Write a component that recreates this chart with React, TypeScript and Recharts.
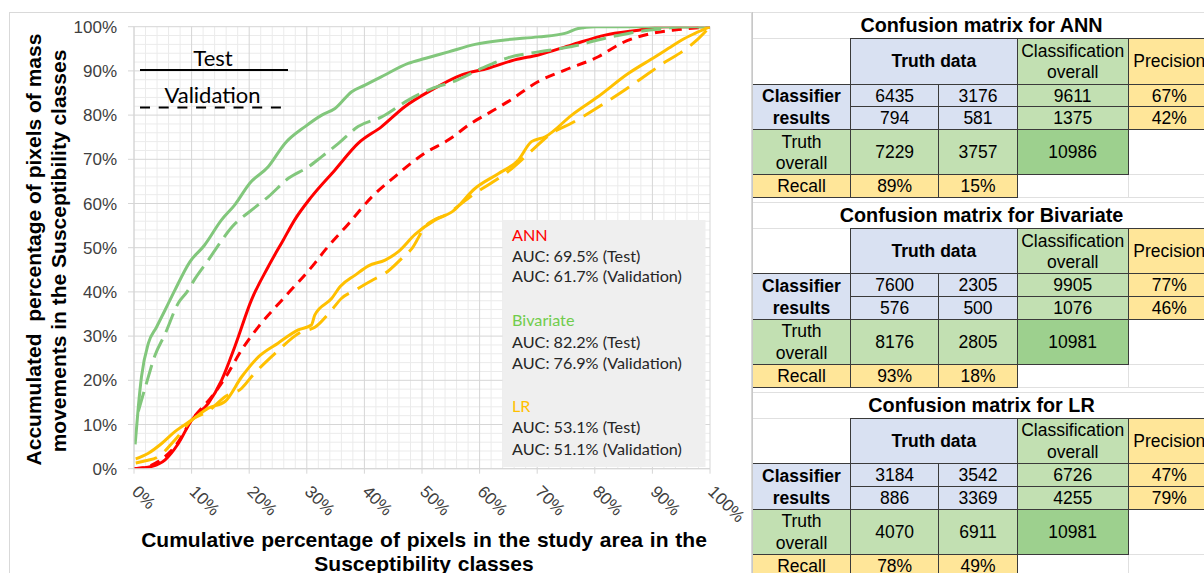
import React from "react";
import { LineChart, Line, XAxis, YAxis, CartesianGrid } from "recharts";

// ---------- chart data ----------
const xTicks = [0, 10, 20, 30, 40, 50, 60, 70, 80, 90, 100];
const yTicks = [0, 10, 20, 30, 40, 50, 60, 70, 80, 90, 100];
const minorTicks = [2, 4, 6, 8, 12, 14, 16, 18, 22, 24, 26, 28, 32, 34, 36, 38, 42, 44, 46, 48, 52, 54, 56, 58, 62, 64, 66, 68, 72, 74, 76, 78, 82, 84, 86, 88, 92, 94, 96, 98];

const annTest: [number, number][] = [
  [0, 0], [3, 0.5], [5.4, 2], [7.7, 5.7], [10, 11], [12.9, 14.8], [15.2, 20], [17.5, 27.6], [20.4, 38.2], [23.3, 45.7],
  [25.9, 51.7], [27.9, 56.3], [30.8, 61.5], [34.9, 67.6], [38.9, 73.6], [43, 77.4], [47, 81.9], [51.7, 85.7], [56.9, 89.1],
  [61.5, 90.6], [66.1, 92.5], [70.2, 93.6], [76, 95.9], [81.8, 98.1], [87.6, 99.2], [92, 100], [100, 100],
];
const annValidation: [number, number][] = [
  [0, 0], [2, 0.3], [4.2, 1.6], [7.1, 5], [10, 11], [13.5, 16.3], [15.8, 20.5], [18.7, 26.9], [21.6, 32.1], [26.2, 38.9],
  [31.4, 46.5], [33.2, 49.5], [37.3, 55.5], [41.3, 61.5], [45.3, 66.1], [50.5, 71.4], [54.6, 74.4], [58.6, 78.2], [61.5, 80.4],
  [65, 83.1], [70.2, 87.6], [74.8, 90.2], [80.6, 93.2], [84.7, 96.3], [89.9, 98.5], [95.1, 99.4], [100, 100],
];
const bivTest: [number, number][] = [
  [0.2, 5.5], [0.75, 14], [1.3, 20.8], [2.5, 28.4], [3.9, 32], [5.4, 35.9], [7.1, 40.4], [9.7, 46.8], [12.2, 50.5], [15.2, 56.3],
  [17.5, 59.7], [20.1, 64.6], [23.3, 68.3], [26.2, 73.6], [29.7, 77.4], [32.6, 80], [34.9, 81.5], [37.8, 85.3], [40.1, 86.8],
  [43, 88.7], [47.6, 91.7], [50.5, 92.8], [54.6, 94.3], [59.2, 96], [64.4, 97], [70.2, 97.7], [74.8, 98.5], [77.1, 99.6],
  [80, 100], [100, 100],
];
const bivValidation: [number, number][] = [
  [0.75, 13], [2.2, 19.5], [3.6, 25.5], [5.4, 30.5], [7.7, 37.5], [9.2, 40], [10.6, 43], [12.9, 47.2], [14.1, 49.5], [17, 54.7],
  [20.4, 58.5], [23.3, 61.5], [26.8, 65.7], [30.3, 68.3], [32.6, 70.6], [35.5, 73.6], [38.9, 77.4], [43, 79.6], [47.6, 83.4],
  [51.7, 86], [55.7, 87.7], [60.4, 90.6], [65, 93], [70.2, 94.3], [76, 95.5], [81.8, 97.4], [87.6, 98.9], [92.2, 99.6],
  [95, 100], [100, 100],
];
const lrTest: [number, number][] = [
  [0.3, 2.2], [2.5, 3.5], [4.8, 5.7], [7.1, 8.4], [10, 11], [12.9, 13.7], [15.8, 15.2], [18.7, 20.8], [21.6, 25.3], [25, 28.4],
  [28.5, 31.4], [30.8, 32.5], [31.4, 34.8], [34.3, 38.5], [35.8, 41.2], [38.4, 43.8], [40.7, 45.9], [43.6, 47.2], [45.9, 49.1],
  [48.8, 53], [52.3, 56.3], [55.2, 58.1], [59.2, 63.4], [63.3, 66.8], [66.7, 69.8], [69, 74], [71.4, 75.1], [76, 80],
  [80.6, 84.2], [85.8, 89.4], [90.5, 93.2], [92.8, 95.1], [95.1, 97], [97.4, 98.5], [100, 100],
];
const lrValidation: [number, number][] = [
  [0.3, 1.3], [2, 1.8], [4.2, 2.7], [7.1, 6.5], [10, 11], [12.9, 13], [15.8, 16.3], [18.7, 18.2], [20.4, 20.8], [24.5, 26.1],
  [29.1, 31], [31.4, 32], [34.3, 35.9], [36, 38.5], [38.4, 40.4], [41.6, 42.8], [43.6, 44.2], [46.5, 47.6], [48.3, 49.9],
  [50.5, 54.7], [54.6, 57.8], [59.2, 62.3], [63.3, 65.7], [65.6, 67.9], [69, 71.9], [72.5, 75.9], [76, 78.2], [81.2, 82.3],
  [85.2, 85.7], [89.3, 89.4], [92.2, 92], [95.1, 94.3], [97.4, 96.6], [100, 100],
];

const aucLines = [
  { head: "ANN", color: "#ff0000", test: "AUC: 69.5% (Test)", val: "AUC: 61.7% (Validation)" },
  { head: "Bivariate", color: "#70cc4c", test: "AUC: 82.2% (Test)", val: "AUC: 76.9% (Validation)" },
  { head: "LR", color: "#ffc000", test: "AUC: 53.1% (Test)", val: "AUC: 51.1% (Validation)" },
];

// ---------- table data ----------
const tableTitles = ["Confusion matrix for ANN", "Confusion matrix for Bivariate", "Confusion matrix for LR"];
const annCounts = [[6435, 3176], [794, 581]];
const annClassOverall = [9611, 1375];
const annPrecision = ["67%", "42%"];
const annTruthOverall = [7229, 3757];
const annTotal = 10986;
const annRecall = ["89%", "15%"];

const bivCounts = [[7600, 2305], [576, 500]];
const bivClassOverall = [9905, 1076];
const bivPrecision = ["77%", "46%"];
const bivTruthOverall = [8176, 2805];
const bivTotal = 10981;
const bivRecall = ["93%", "18%"];

const lrCounts = [[3184, 3542], [886, 3369]];
const lrClassOverall = [6726, 4255];
const lrPrecision = ["47%", "79%"];
const lrTruthOverall = [4070, 6911];
const lrTotal = 10981;
const lrRecall = ["78%", "49%"];

const RED = "#ff0000";
const GREEN = "#82c77c";
const ORANGE = "#ffc000";

const toData = (pts: [number, number][]) => pts.map(([x, y]) => ({ x, y }));

const seriesList = [
  { key: "annT", pts: annTest, color: RED, dash: undefined as string | undefined },
  { key: "annV", pts: annValidation, color: RED, dash: "10 7" },
  { key: "bivT", pts: bivTest, color: GREEN, dash: undefined },
  { key: "bivV", pts: bivValidation, color: GREEN, dash: "20 8" },
  { key: "lrT", pts: lrTest, color: ORANGE, dash: undefined },
  { key: "lrV", pts: lrValidation, color: ORANGE, dash: "22 10" },
];

const ARIAL = "'Liberation Sans', Arial, sans-serif";
const CALIBRI = "Lato, 'Open Sans', sans-serif";

const XTick = (props: any) => {
  const { x, y, payload } = props;
  const tx = x - 3;
  const ty = y + 17;
  return (
    <text x={tx} y={ty} transform={`rotate(45 ${tx} ${ty})`} fontSize={17} fill="#404040" fontFamily={ARIAL} textAnchor="start">
      {payload.value}%
    </text>
  );
};

// ---------- table ----------
const BLUE = "#d9e1f2";
const LGREEN = "#c2e0b2";
const DGREEN = "#9dd08e";
const YELLOW = "#ffe699";
const DARK = "1px solid #3a3a3a";
const LIGHT = "1px solid #e0e0e0";

function Cell(p: { x: number; y: number; w: number; h: number; bg?: string; lines?: (string | number)[]; bold?: boolean; border?: string; fs?: number; pt?: number }) {
  return (
    <div
      style={{
        position: "absolute",
        left: p.x,
        top: p.y,
        width: p.w + 1,
        height: p.h + 1,
        boxSizing: "border-box",
        background: p.bg || "#fff",
        border: p.border || LIGHT,
        display: "flex",
        flexDirection: "column",
        alignItems: "center",
        justifyContent: "center",
        fontFamily: ARIAL,
        fontSize: p.fs || 17.5,
        fontWeight: p.bold ? 700 : 400,
        lineHeight: "21.6px",
        color: "#000",
        paddingTop: p.pt ?? 2,
        whiteSpace: "nowrap",
      }}
    >
      {(p.lines || []).map((l, i) => (
        <div key={i}>{l}</div>
      ))}
    </div>
  );
}

function Matrix(p: { i: number; title: string; counts: number[][]; classOverall: number[]; precision: string[]; truthOverall: number[]; total: number; recall: string[] }) {
  const base = 12 + p.i * 189.9;
  const X = [752, 850, 938.3, 1016.7, 1127.7, 1210];
  const hdr = base + 26;
  const r1 = base + 71.5;
  const r2 = base + 94.2;
  const tr = base + 117;
  const rc = base + 162.3;
  const end = base + 185;
  const W = (a: number, b: number) => X[b] - X[a];
  return (
    <>
      <Cell x={X[0]} y={base} w={W(0, 5)} h={26} lines={[p.title]} bold fs={19.8} pt={0} />
      <Cell x={X[0]} y={end} w={W(0, 5)} h={189.9 - 185} />
      <Cell x={X[0]} y={hdr} w={W(0, 1)} h={45.5} />
      <Cell x={X[4]} y={tr} w={W(4, 5)} h={45.3} />
      <Cell x={X[3]} y={rc} w={W(3, 4)} h={22.7} />
      <Cell x={X[4]} y={rc} w={W(4, 5)} h={22.7} />
      <Cell x={X[1]} y={hdr} w={W(1, 3)} h={45.5} bg={BLUE} border={DARK} lines={["Truth data"]} bold />
      <Cell x={X[3]} y={hdr} w={W(3, 4)} h={45.5} bg={LGREEN} border={DARK} lines={["Classification", "overall"]} />
      <Cell x={X[4]} y={hdr} w={W(4, 5)} h={45.5} bg={YELLOW} border={DARK} lines={["Precision"]} />
      <Cell x={X[0]} y={r1} w={W(0, 1)} h={r2 - r1 + 22.8} bg={BLUE} border={DARK} lines={["Classifier", "results"]} bold />
      {[r1, r2].map((ry, ri) => (
        <React.Fragment key={ri}>
          <Cell x={X[1]} y={ry} w={W(1, 2)} h={22.7} bg={BLUE} border={DARK} lines={[p.counts[ri][0]]} />
          <Cell x={X[2]} y={ry} w={W(2, 3)} h={22.7} bg={BLUE} border={DARK} lines={[p.counts[ri][1]]} />
          <Cell x={X[3]} y={ry} w={W(3, 4)} h={22.7} bg={LGREEN} border={DARK} lines={[p.classOverall[ri]]} />
          <Cell x={X[4]} y={ry} w={W(4, 5)} h={22.7} bg={YELLOW} border={DARK} lines={[p.precision[ri]]} />
        </React.Fragment>
      ))}
      <Cell x={X[0]} y={tr} w={W(0, 1)} h={45.3} bg={LGREEN} border={DARK} lines={["Truth", "overall"]} />
      <Cell x={X[1]} y={tr} w={W(1, 2)} h={45.3} bg={LGREEN} border={DARK} lines={[p.truthOverall[0]]} />
      <Cell x={X[2]} y={tr} w={W(2, 3)} h={45.3} bg={LGREEN} border={DARK} lines={[p.truthOverall[1]]} />
      <Cell x={X[3]} y={tr} w={W(3, 4)} h={45.3} bg={DGREEN} border={DARK} lines={[p.total]} />
      <Cell x={X[0]} y={rc} w={W(0, 1)} h={22.7} bg={YELLOW} border={DARK} lines={["Recall"]} />
      <Cell x={X[1]} y={rc} w={W(1, 2)} h={22.7} bg={YELLOW} border={DARK} lines={[p.recall[0]]} />
      <Cell x={X[2]} y={rc} w={W(2, 3)} h={22.7} bg={YELLOW} border={DARK} lines={[p.recall[1]]} />
    </>
  );
}

export default function App() {
  const aucBaselines = [240.5, 262, 282, 326, 347.5, 368.5, 412, 433, 455];
  return (
    <div style={{ position: "absolute", left: 0, top: 0, width: 1204, height: 573, overflow: "hidden", background: "#fff" }}>
      <div style={{ position: "absolute", left: 9, top: 12, width: 743, height: 600, border: "1px solid #d9d9d9", boxSizing: "border-box" }} />
      <div style={{ position: "absolute", left: 0, top: 0 }}>
        <LineChart width={752} height={573} margin={{ top: 26.7, right: 42, bottom: 0, left: 0 }}>
          <CartesianGrid stroke="#ebebeb" verticalValues={minorTicks} horizontalValues={minorTicks} />
          <CartesianGrid stroke="#d6d6d6" verticalValues={xTicks} horizontalValues={yTicks} />
          <XAxis
            type="number"
            dataKey="x"
            domain={[0, 100]}
            ticks={xTicks}
            interval={0}
            tick={<XTick />}
            tickSize={5}
            height={104.3}
            axisLine={{ stroke: "#d6d6d6" }}
            tickLine={{ stroke: "#d6d6d6" }}
            allowDataOverflow
          />
          <YAxis
            type="number"
            domain={[0, 100]}
            ticks={yTicks}
            interval={0}
            tickFormatter={(v: number) => `${v}%`}
            tick={{ fontSize: 17, fill: "#404040", fontFamily: ARIAL }}
            tickSize={6}
            tickMargin={11}
            width={134}
            axisLine={{ stroke: "#d6d6d6" }}
            tickLine={{ stroke: "#d6d6d6" }}
            allowDataOverflow
          />
          {seriesList.map((s) => (
            <Line
              key={s.key}
              data={toData(s.pts)}
              dataKey="y"
              type="monotone"
              stroke={s.color}
              strokeWidth={3}
              strokeDasharray={s.dash}
              dot={false}
              activeDot={false}
              isAnimationActive={false}
            />
          ))}
        </LineChart>
      </div>
      <svg width={752} height={573} style={{ position: "absolute", left: 0, top: 0, pointerEvents: "none" }}>
        {/* axis titles */}
        <text x={424} y={546.5} textAnchor="middle" fontFamily={ARIAL} fontWeight={700} fontSize={21} fill="#000" wordSpacing={1}>
          Cumulative percentage of pixels in the study area in the
        </text>
        <text x={424} y={571} textAnchor="middle" fontFamily={ARIAL} fontWeight={700} fontSize={21} fill="#000" wordSpacing={1}>
          Susceptibility classes
        </text>
        <text x={40.5} y={249.5} transform="rotate(-90 40.5 249.5)" textAnchor="middle" fontFamily={ARIAL} fontWeight={700} fontSize={21} fill="#000" xmlSpace="preserve">
          Accumulated  percentage of pixels of mass
        </text>
        <text x={65.5} y={251} transform="rotate(-90 65.5 251)" textAnchor="middle" fontFamily={ARIAL} fontWeight={700} fontSize={21} fill="#000">
          movements in the Susceptibility classes
        </text>
        {/* line-style legend */}
        <text x={213} y={65.5} textAnchor="middle" fontFamily={CALIBRI} fontSize={22} fill="#000">Test</text>
        <line x1={140} x2={288} y1={70} y2={70} stroke="#000" strokeWidth={2} />
        <text x={212.5} y={103} textAnchor="middle" fontFamily={CALIBRI} fontSize={22} fill="#000">Validation</text>
        <line x1={140} x2={283} y1={107.5} y2={107.5} stroke="#000" strokeWidth={2} strokeDasharray="10 8.7" />
        {/* AUC box */}
        <rect x={502.5} y={220} width={203} height={247} fill="#efefef" />
        {aucLines.map((a, i) => (
          <React.Fragment key={a.head}>
            <text x={512} y={aucBaselines[i * 3]} fontFamily={CALIBRI} fontSize={16.2} fill={a.color}>{a.head}</text>
            <text x={512} y={aucBaselines[i * 3 + 1]} fontFamily={CALIBRI} fontSize={16.2} fill="#262626">{a.test}</text>
            <text x={512} y={aucBaselines[i * 3 + 2]} fontFamily={CALIBRI} fontSize={16.2} fill="#262626">{a.val}</text>
          </React.Fragment>
        ))}
      </svg>
      <Matrix i={0} title={tableTitles[0]} counts={annCounts} classOverall={annClassOverall} precision={annPrecision} truthOverall={annTruthOverall} total={annTotal} recall={annRecall} />
      <Matrix i={1} title={tableTitles[1]} counts={bivCounts} classOverall={bivClassOverall} precision={bivPrecision} truthOverall={bivTruthOverall} total={bivTotal} recall={bivRecall} />
      <Matrix i={2} title={tableTitles[2]} counts={lrCounts} classOverall={lrClassOverall} precision={lrPrecision} truthOverall={lrTruthOverall} total={lrTotal} recall={lrRecall} />
      <div style={{ position: "absolute", left: 752, top: 12, width: 1, height: 600, background: "#c8c8c8" }} />
    </div>
  );
}
